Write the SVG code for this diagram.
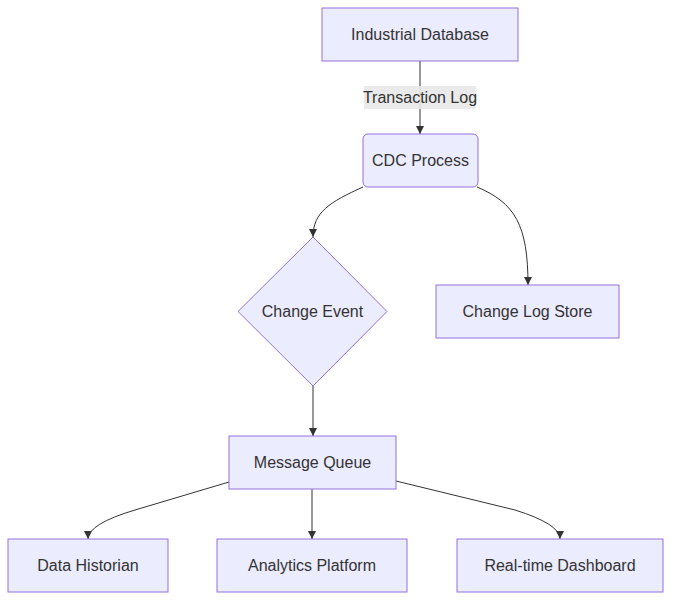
<svg xmlns="http://www.w3.org/2000/svg" width="679" height="608" viewBox="0 0 679 608">
<defs>
<marker id="arr" viewBox="0 0 10 10" refX="10" refY="5" markerWidth="8" markerHeight="8" markerUnits="userSpaceOnUse" orient="auto">
<path d="M0,0 L10,5 L0,10 z" fill="#333"/>
</marker>
<style>
.node rect,.node polygon{fill:#ECECFF;stroke:#9370DB;stroke-width:1}
text{font-family:"Trebuchet MS","Liberation Sans",Arial,sans-serif;font-size:16px;fill:#333;text-anchor:middle;dominant-baseline:central}
.edge{fill:none;stroke:#333;stroke-width:1;marker-end:url(#arr)}
</style>
</defs>
<rect width="679" height="608" fill="#fff"/>
<g id="connectors">
<path class="edge" d="M420,61 L420,134"/>
<path class="edge" d="M363,187 C330,202 313,212 313,237"/>
<path class="edge" d="M477,187 C515,203 528,225 528,285"/>
<path class="edge" d="M313,386 L313,436"/>
<path class="edge" d="M229,482 L135,510 Q88,524 88,539"/>
<path class="edge" d="M312,489 L312,539"/>
<path class="edge" d="M396,481 L515,510 Q560,524 560,539"/>
<g id="label-transaction">
<rect x="364" y="86" width="112" height="23" fill="#e8e8e8" opacity="0.9"/>
<text x="420" y="97.5">Transaction Log</text>
</g>
</g>
<g id="n-db" class="node"><rect x="322" y="8" width="196" height="53"/><text x="420" y="34.5">Industrial Database</text></g>
<g id="n-cdc" class="node"><rect x="363" y="134" width="115" height="53" rx="5"/><text x="420.5" y="160.5">CDC Process</text></g>
<g id="n-event" class="node"><polygon points="313,237 387,311.5 313,386 238,311.5"/><text x="312.5" y="311.5">Change Event</text></g>
<g id="n-store" class="node"><rect x="436" y="285" width="183" height="53"/><text x="527.5" y="311.5">Change Log Store</text></g>
<g id="n-mq" class="node"><rect x="229" y="436" width="167" height="53"/><text x="312.5" y="462.5">Message Queue</text></g>
<g id="n-hist" class="node"><rect x="8" y="539" width="160" height="53"/><text x="88" y="565.5">Data Historian</text></g>
<g id="n-analytics" class="node"><rect x="217" y="539" width="190" height="53"/><text x="312" y="565.5">Analytics Platform</text></g>
<g id="n-dash" class="node"><rect x="457" y="539" width="206" height="53"/><text x="560" y="565.5">Real-time Dashboard</text></g>
</svg>
